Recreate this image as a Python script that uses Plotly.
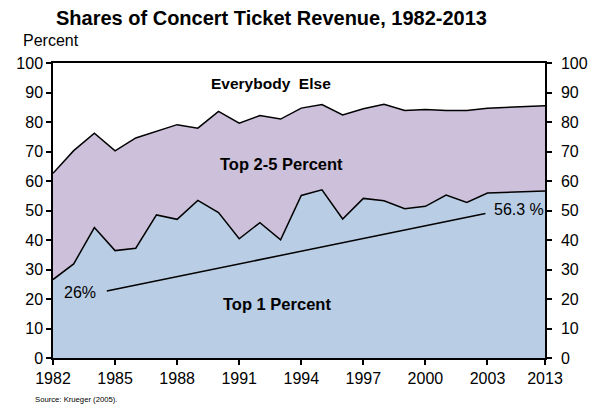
import plotly.graph_objects as go

# ---- data ----
years = [1982, 1983, 1984, 1985, 1986, 1987, 1988, 1989, 1990, 1991, 1992,
         1993, 1994, 1995, 1996, 1997, 1998, 1999, 2000, 2001, 2002, 2003, 2013]
top1_share = [26.6, 31.9, 44.2, 36.4, 37.2, 48.5, 47.0, 53.4, 49.3, 40.4, 45.9,
              40.1, 55.1, 57.0, 47.1, 54.1, 53.3, 50.6, 51.4, 55.2, 52.7, 55.9, 56.6]
top5_share = [62.6, 70.3, 76.2, 70.2, 74.6, 76.8, 79.1, 77.9, 83.6, 79.6, 82.2,
              81.0, 84.7, 85.9, 82.4, 84.5, 86.0, 83.9, 84.2, 83.9, 83.9, 84.7, 85.5]
trend_years = [1984.6, 2002.9]
trend_values = [22.7, 49.0]
tick_years = [1982, 1985, 1988, 1991, 1994, 1997, 2000, 2003, 2013]
y_ticks = list(range(0, 101, 10))

# broken x scale: years after 2003 are compressed on the axis
BREAK_YEAR = 2003
COMPRESS = 0.278


def xpos(year):
    return year if year <= BREAK_YEAR else BREAK_YEAR + (year - BREAK_YEAR) * COMPRESS


xs = [xpos(y) for y in years]
FONT = "Liberation Sans, Arial, sans-serif"
BLUE = "#B9CDE5"
PURPLE = "#CCC0DA"

fig = go.Figure()
fig.add_trace(go.Scatter(x=xs, y=top1_share, mode="lines", fill="tozeroy",
                         fillcolor=BLUE, line=dict(color="black", width=1.5),
                         hoverinfo="skip", showlegend=False))
fig.add_trace(go.Scatter(x=xs, y=top5_share, mode="lines", fill="tonexty",
                         fillcolor=PURPLE, line=dict(color="black", width=1.5),
                         hoverinfo="skip", showlegend=False))
fig.add_trace(go.Scatter(x=[xpos(y) for y in trend_years], y=trend_values,
                         mode="lines", line=dict(color="black", width=1.5),
                         hoverinfo="skip", showlegend=False))
# invisible trace to carry the right-hand axis
fig.add_trace(go.Scatter(x=[xs[0]], y=[0], yaxis="y2", mode="markers",
                         marker=dict(opacity=0), hoverinfo="skip", showlegend=False))

axis_common = dict(showgrid=False, zeroline=False, showline=True, linecolor="black",
                   linewidth=1.5, ticks="outside", ticklen=5, tickwidth=1.5,
                   tickcolor="black", tickfont=dict(family=FONT, size=16, color="black"))

fig.update_layout(
    width=600, height=413,
    margin=dict(l=53, r=52, t=63, b=55),
    paper_bgcolor="white", plot_bgcolor="white",
    xaxis=dict(range=[xpos(years[0]), xpos(years[-1])],
               tickvals=[xpos(y) for y in tick_years],
               ticktext=[str(y) for y in tick_years],
               mirror=True, **axis_common),
    yaxis=dict(range=[0, 100], tickvals=y_ticks, mirror=True, **axis_common),
    yaxis2=dict(range=[0, 100], tickvals=y_ticks, overlaying="y", side="right",
                ticklabelstandoff=6, **axis_common),
)

ann = [
    dict(text="<b>Shares of Concert Ticket Revenue, 1982-2013</b>", x=0.444, y=1.1536,
         size=20),
    dict(text="Percent", x=-0.004, y=1.0756, size=16),
    dict(text="<b>Everybody  Else</b>", x=0.444, y=0.929, size=15.5),
    dict(text="<b>Top 2-5 Percent</b>", x=0.465, y=0.658, size=16.5),
    dict(text="<b>Top 1 Percent</b>", x=0.456, y=0.182, size=16.5),
    dict(text="26%", x=0.054, y=0.222, size=16),
    dict(text="56.3 %", x=0.948, y=0.502, size=16),
]
for a in ann:
    fig.add_annotation(text=a["text"], x=a["x"], y=a["y"], xref="paper", yref="paper",
                       xanchor="center", yanchor="middle", showarrow=False,
                       font=dict(family=FONT, size=a["size"], color="black"))
fig.add_annotation(text="Source: Krueger (2005).", x=-0.041, y=-0.142, xref="paper",
                   yref="paper", xanchor="left", yanchor="middle", showarrow=False,
                   font=dict(family=FONT, size=7.7, color="black"))

fig.write_html("out.html", config={"displayModeBar": False},
               post_script="document.body.style.margin='0';document.body.style.overflow='hidden';")
